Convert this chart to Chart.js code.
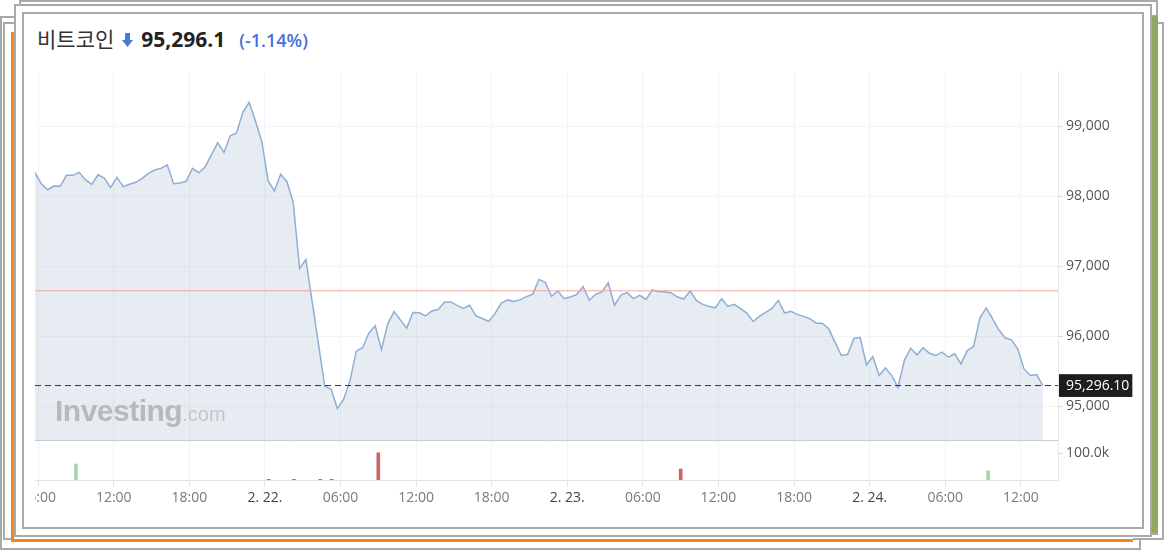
<!DOCTYPE html>
<html><head><meta charset="utf-8">
<script src="https://cdn.jsdelivr.net/npm/chart.js@4.4.1/dist/chart.umd.min.js"></script>
<style>
html,body{margin:0;padding:0;background:#fff;width:1164px;height:550px;overflow:hidden;position:relative;font-family:'Open Sans',sans-serif;}
.fr{position:absolute;box-sizing:border-box;background:#fff;border:2px solid #a9a9a9;}
#wrap{position:absolute;left:35px;top:60px;width:1105px;height:465px;overflow:hidden;}
#c{position:absolute;left:-30px;top:0;}
#title{position:absolute;left:37px;top:23px;display:flex;align-items:baseline;white-space:nowrap;}
#wm{position:absolute;left:55px;top:396px;font-family:'Liberation Sans',Arial,sans-serif;font-size:30px;line-height:30px;white-space:nowrap;pointer-events:none;}
</style></head><body>
<div class="fr" style="left:0;top:16px;width:1141px;height:534px"></div>
<div class="fr" style="left:3px;top:22px;width:1161px;height:518px"></div>
<div class="fr" style="left:19px;top:0;width:1139px;height:535px"></div>
<div class="fr" style="left:11px;top:32px;width:1122px;height:510px;border:none;border-left:3px solid #f5851f;border-bottom:3px solid #f5851f"></div>
<div class="fr" style="left:1100px;top:15px;width:58px;height:518px;border:none;border-top:2px solid #a9a9a9;border-right:6px solid #8fa864"></div>
<div class="fr" style="left:14px;top:4px;width:1138px;height:533px"></div>
<div class="fr" style="left:22px;top:12px;width:1122px;height:517px"></div>

<div id="title">
  <span style="font-family:'Noto Sans CJK KR';font-size:21px;color:#333;">비트코인</span>
  <svg width="11" height="14" viewBox="0 0 11 14" style="margin-left:8px;margin-bottom:2px"><path d="M3 0h5v7h3l-5.5 7L0 7h3z" fill="#4a78dc"/></svg>
  <span style="font-family:'Open Sans';font-weight:700;font-size:21px;color:#222;margin-left:8px;">95,296.1</span>
  <span style="font-family:'Open Sans';font-weight:600;font-size:18px;color:#4a6fdc;margin-left:14px;">(-1.14%)</span>
</div>

<div id="wrap"><canvas id="c" width="1135" height="465"></canvas></div>
<div id="wm"><span style="font-weight:700;letter-spacing:-0.5px;color:#b9b9b9">Investing</span><span style="font-size:20px;color:#c6c6c6">.com</span></div>

<script>
// ---- data ----
const startHour = 5.75;   // hours since 2/21 00:00 of first point
const stepHours = 0.5;
const prices = [
98338, 98181, 98095, 98148, 98144, 98300, 98300, 98343, 98238, 98172,
98309, 98262, 98124, 98272, 98138, 98172, 98201, 98258, 98329, 98376,
98400, 98452, 98181, 98191, 98215, 98400, 98338, 98419, 98594, 98765,
98628, 98865, 98907, 99202, 99345, 99074, 98789, 98224, 98077, 98315,
98209, 97910,
96970, 97098, 96496, 95893, 95285, 95246, 94967, 95100, 95360, 95788,
95836, 96044, 96150, 95808, 96178, 96353, 96235, 96115, 96339, 96335,
96292, 96363, 96382, 96486, 96491, 96443, 96400, 96443, 96292, 96254,
96215, 96320, 96472, 96520, 96496, 96520, 96567, 96600, 96813, 96771,
96571, 96648, 96538, 96561, 96600, 96709, 96514, 96600,
96634, 96766, 96442, 96590, 96624, 96538, 96585, 96528, 96662, 96638,
96638, 96620, 96561, 96533, 96648, 96514, 96456, 96427, 96407, 96537,
96427, 96456, 96395, 96332, 96212, 96285, 96342, 96399, 96514, 96332,
96356, 96313, 96285, 96251, 96188, 96188, 96107, 95916, 95725, 95739,
95973, 95983, 95591, 95711, 95439, 95548, 95439, 95271, 95654, 95830,
95735, 95835, 95758, 95725, 95774, 95701, 95749, 95605, 95796, 95855,
96261, 96405, 96251, 96093, 95979, 95950, 95821, 95533, 95439, 95453,
95296.1
];
const lastPrice = 95296.1;
const refPrice = 96650;
const xMinHour = 5.75, xMaxHour = 86.95;
const tickHours = [6,12,18,24,30,36,42,48,54,60,66,72,78,84];
const tickLabels = ['06:00','12:00','18:00','2. 22.','06:00','12:00','18:00','2. 23.','06:00','12:00','18:00','2. 24.','06:00','12:00'];
const priceTicks = [95000,96000,97000,98000,99000];
const priceMin = 94516, priceMax = 99786;
const volHours  = [9, 24.3, 26.3, 28.4, 29.3, 33, 57, 81.4];
const volValues = [59000, 2500, 2500, 2500, 2500, 101000, 41000, 34000];
const volUp     = [true, false, false, false, false, false, false, true];
const volMax = 148148;
const volTicks = [100000];
const volTickLabels = ['100.0k'];

// ---- chart ----
Chart.defaults.font.family = "'Open Sans', sans-serif";
Chart.defaults.font.size = 14;
const priceData = prices.map((p, i) => ({x: startHour + i * stepHours, y: p}));
const fmt = v => v === lastPrice ? v.toLocaleString('en-US', {minimumFractionDigits: 2}) : v.toLocaleString('en-US');
const isLast = c => c.tick && c.tick.value === lastPrice;

new Chart(document.getElementById('c'), {
  type: 'line',
  data: {datasets: [
    {type: 'line', data: priceData, yAxisID: 'y', borderColor: '#8eaed6', borderWidth: 1.5,
     backgroundColor: 'rgba(176,192,214,0.3)', fill: 'start', pointRadius: 0, tension: 0, order: 3},
    {type: 'line', data: [{x: xMinHour, y: refPrice}, {x: xMaxHour, y: refPrice}], yAxisID: 'y',
     borderColor: '#f4a49e', borderWidth: 1, pointRadius: 0, fill: false, order: 1},
    {type: 'line', data: [{x: xMinHour, y: lastPrice}, {x: xMaxHour, y: lastPrice}], yAxisID: 'y',
     borderColor: '#333', borderWidth: 1, borderDash: [6, 4], pointRadius: 0, fill: false, order: 0},
    {type: 'bar', data: volHours.map((h, i) => ({x: h, y: volValues[i]})), yAxisID: 'yv',
     backgroundColor: volUp.map(u => u ? '#a8d4a8' : '#c96565'), barThickness: 3, order: 2}
  ]},
  options: {
    responsive: false, animation: false, devicePixelRatio: 1,
    layout: {padding: {left: 30, top: 10, right: 0, bottom: 0}},
    plugins: {legend: {display: false}, tooltip: {enabled: false}},
    scales: {
      x: {type: 'linear', min: xMinHour, max: xMaxHour, offset: false,
        afterBuildTicks: s => { s.ticks = tickHours.map(v => ({value: v})); },
        afterFit: s => { s.height = 45; },
        ticks: {autoSkip: false, maxRotation: 0, padding: 4,
          color: c => (tickLabels[c.index] || '').startsWith('2.') ? '#444' : '#7a7a7a',
          callback: (v, i) => tickLabels[i]},
        grid: {color: '#f1f3f6', tickColor: '#dfe2e8', tickLength: 6, offset: false},
        border: {color: '#e0e3ea'}
      },
      y: {type: 'linear', position: 'right', stack: 'main', stackWeight: 370, min: priceMin, max: priceMax,
        afterBuildTicks: s => { s.ticks = priceTicks.concat([lastPrice]).sort((a, b) => a - b).map(v => ({value: v})); },
        afterFit: s => { s.width = 82; },
        ticks: {autoSkip: false, padding: 3, callback: v => fmt(v),
          color: c => isLast(c) ? '#fff' : '#555',
          showLabelBackdrop: c => isLast(c),
          backdropColor: '#1e1e1e',
          backdropPadding: {left: 7, right: 3, top: 3, bottom: 3}},
        grid: {color: c => isLast(c) ? 'rgba(0,0,0,0)' : '#f3f4f6',
          tickColor: c => isLast(c) ? 'rgba(0,0,0,0)' : '#d8dbe2', tickLength: 5},
        border: {color: '#e6e8ee'}
      },
      yv: {type: 'linear', position: 'right', stack: 'main', stackWeight: 40, min: 0, max: volMax,
        afterBuildTicks: s => { s.ticks = volTicks.concat([volMax]).map(v => ({value: v})); },
        afterFit: s => { s.width = 82; },
        ticks: {autoSkip: false, padding: 3, color: '#555',
          callback: v => { const k = volTicks.indexOf(v); return k >= 0 ? volTickLabels[k] : ''; }},
        grid: {color: c => c.tick && c.tick.value === volMax ? '#c8cbd2' : 'rgba(0,0,0,0)',
          tickColor: c => c.tick && c.tick.value === volMax ? 'rgba(0,0,0,0)' : '#d8dbe2', tickLength: 5},
        border: {color: '#e6e8ee'}
      }
    }
  }
});
</script>
</body></html>
